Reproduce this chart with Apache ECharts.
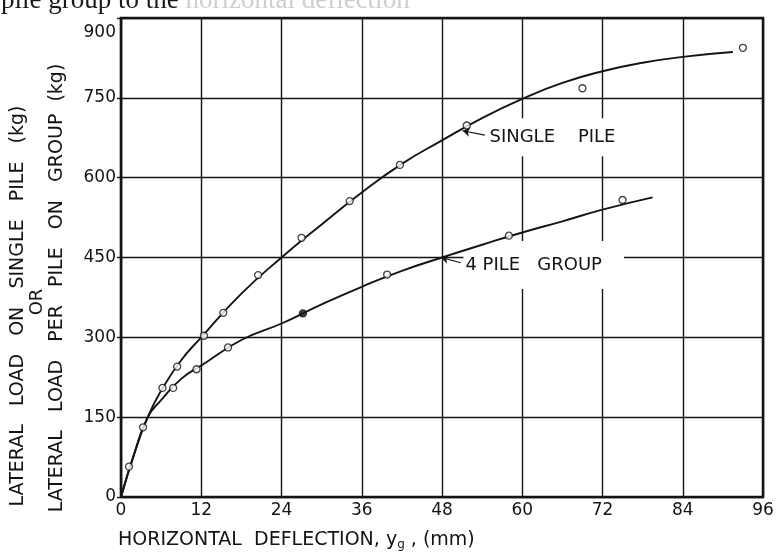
<!DOCTYPE html>
<html>
<head>
<meta charset="utf-8">
<script src="https://cdn.jsdelivr.net/npm/echarts@6/dist/echarts.min.js"></script>
<style>
  html, body { margin: 0; padding: 0; background: #fff; }
  #main { width: 777px; height: 552px; }
</style>
</head>
<body>
<div id="main"></div>
<script>
// 读图得到的数据 —— deflection (mm) vs lateral load (kg)
var xTicks = [0, 12, 24, 36, 48, 60, 72, 84, 96];
var yTicks = [0, 150, 300, 450, 600, 750, 900];

// measured points
var singleX = [1.2, 3.3, 6.2, 8.4, 12.4, 15.3, 20.5, 27, 34.2, 41.7, 51.7, 69, 93];
var singleY = [57, 131, 205, 245, 303, 346, 417, 487, 556, 624, 698, 768, 844];
var groupX = [7.8, 11.3, 16, 27.2, 39.8, 58, 75];
var groupY = [205, 240, 281, 345, 418, 491, 558];
var groupFilled = [false, false, false, true, false, false, false];

// fitted curves
var singleCurveX = [0, 2, 4, 6, 9, 12, 18, 24, 30, 36, 42, 48, 54, 60, 66, 72, 78, 84, 91.5];
var singleCurveY = [0, 82, 150, 200, 257, 300, 382, 450, 512, 572, 626, 670, 712, 748, 778, 800, 816, 827, 836];
var groupCurveX = [0, 2, 4, 6, 9, 12, 18, 24, 30, 36, 42, 48, 54, 60, 66, 72, 79.5];
var groupCurveY = [0, 82, 150, 182, 222, 247, 295, 326, 362, 395, 425, 450, 474, 497, 518, 540, 563];

var INK = '#141414';
var FONT = 'DejaVu Sans';

function pairs(xs, ys) {
  return xs.map(function (x, i) { return [x, ys[i]]; });
}

var chart = echarts.init(document.getElementById('main'), null, { renderer: 'canvas' });

var option = {
  backgroundColor: '#fff',
  animation: false,
  grid: {
    left: 121, right: 14, top: 18, bottom: 55,
    show: true, borderColor: INK, borderWidth: 2.5, backgroundColor: 'transparent'
  },
  xAxis: {
    type: 'value',
    min: xTicks[0], max: xTicks[xTicks.length - 1], interval: 12,
    axisLine: { show: true, lineStyle: { color: INK, width: 2.2 } },
    axisTick: { show: false },
    axisLabel: { color: INK, fontFamily: FONT, fontSize: 17, margin: 5 },
    splitLine: { show: true, lineStyle: { color: INK, width: 1.4 } }
  },
  yAxis: {
    type: 'value',
    min: yTicks[0], max: yTicks[yTicks.length - 1], interval: 150,
    axisLine: { show: true, lineStyle: { color: INK, width: 2.2 } },
    axisTick: { show: true, length: 4, lineStyle: { color: INK, width: 1.4 } },
    axisLabel: {
      color: INK, fontFamily: FONT, fontSize: 17, margin: 5,
      // the top label sits a little below the frame in the drawing
      formatter: function (v) { return v === 900 ? '{lo|900}' : String(v); },
      rich: { lo: { fontFamily: FONT, fontSize: 17, color: INK, padding: [30, 0, 0, 0] } }
    },
    splitLine: { show: true, lineStyle: { color: INK, width: 1.4 } }
  },
  series: [
    {
      name: 'single curve',
      type: 'line',
      data: pairs(singleCurveX, singleCurveY),
      showSymbol: false,
      smooth: 0.5,
      lineStyle: { color: INK, width: 1.9 },
      z: 3,
      markLine: {
        silent: true,
        symbol: ['none', 'arrow'],
        symbolSize: 7,
        label: { show: false },
        lineStyle: { color: INK, width: 1.1, type: 'solid' },
        data: [[{ coord: [54.4, 680] }, { coord: [51.1, 688] }]]
      }
    },
    {
      name: 'group curve',
      type: 'line',
      data: pairs(groupCurveX, groupCurveY),
      showSymbol: false,
      smooth: 0.5,
      lineStyle: { color: INK, width: 1.9 },
      z: 3,
      markLine: {
        silent: true,
        symbol: ['none', 'arrow'],
        symbolSize: 7,
        label: { show: false },
        lineStyle: { color: INK, width: 1.1, type: 'solid' },
        data: [[{ coord: [50.8, 440] }, { coord: [47.9, 450] }]]
      }
    },
    {
      name: 'single pile',
      type: 'scatter',
      data: pairs(singleX, singleY),
      symbol: 'circle',
      symbolSize: 7,
      itemStyle: { color: '#fff', borderColor: INK, borderWidth: 1.3 },
      z: 4
    },
    {
      name: '4 pile group',
      type: 'scatter',
      data: groupX.map(function (x, i) {
        return {
          value: [x, groupY[i]],
          itemStyle: { color: groupFilled[i] ? INK : '#fff' }
        };
      }),
      symbol: 'circle',
      symbolSize: 7,
      itemStyle: { borderColor: INK, borderWidth: 1.3 },
      z: 4
    }
  ]
};

chart.setOption(option);

// texts: labels on the curves, axis titles, clipped caption line at the top
function drawTexts() {
  var pSingle = chart.convertToPixel({ gridIndex: 0 }, [54.8, 676]);
  var pGroup = chart.convertToPixel({ gridIndex: 0 }, [51.2, 436]);
  chart.setOption({
    graphic: [
      {
        type: 'text', x: pSingle[0], y: pSingle[1], z: 1,
        style: {
          text: 'SINGLE    PILE', fill: INK, font: '18px "' + FONT + '"',
          textAlign: 'left', textVerticalAlign: 'middle',
          backgroundColor: '#fff', padding: [14, 4, 6, 2]
        }
      },
      {
        type: 'text', x: pGroup[0], y: pGroup[1], z: 1,
        style: {
          text: '4 PILE   GROUP', fill: INK, font: '18px "' + FONT + '"',
          textAlign: 'left', textVerticalAlign: 'middle',
          backgroundColor: '#fff', padding: [8, 22, 22, 2]
        }
      },
      {
        type: 'text', x: 18, y: 306, rotation: Math.PI / 2, z: 10,
        style: {
          text: 'LATERAL   LOAD   ON   SINGLE   PILE   (kg)', fill: INK,
          font: '19px "' + FONT + '"', textAlign: 'center', textVerticalAlign: 'middle'
        }
      },
      {
        type: 'text', x: 37, y: 302, rotation: Math.PI / 2, z: 10,
        style: {
          text: 'OR', fill: INK, font: '18px "' + FONT + '"',
          textAlign: 'center', textVerticalAlign: 'middle'
        }
      },
      {
        type: 'text', x: 57, y: 288, rotation: Math.PI / 2, z: 10,
        style: {
          text: 'LATERAL   LOAD   PER   PILE   ON   GROUP  (kg)', fill: INK,
          font: '19px "' + FONT + '"', textAlign: 'center', textVerticalAlign: 'middle'
        }
      },
      {
        type: 'text', x: 118, y: 540, z: 10,
        style: {
          text: 'HORIZONTAL  DEFLECTION, {y|y}{g|g} , (mm)', fill: INK,
          font: '19px "' + FONT + '"', textAlign: 'left', textVerticalAlign: 'middle',
          rich: {
            y: { fontFamily: FONT, fontSize: 19, fill: INK },
            g: { fontFamily: FONT, fontSize: 12, fill: INK, padding: [9, 0, 0, 0] }
          }
        }
      },
      {
        type: 'text', x: 1, y: 14, z: 10,
        style: {
          text: 'pile group to the {f|horizontal deflection}', fill: '#1a1a1a',
          font: '27px "Liberation Serif"', textAlign: 'left', textVerticalAlign: 'bottom',
          rich: { f: { fontFamily: 'Liberation Serif', fontSize: 27, fill: '#cfcfcf' } }
        }
      }
    ]
  });
}

drawTexts();
</script>
</body>
</html>
